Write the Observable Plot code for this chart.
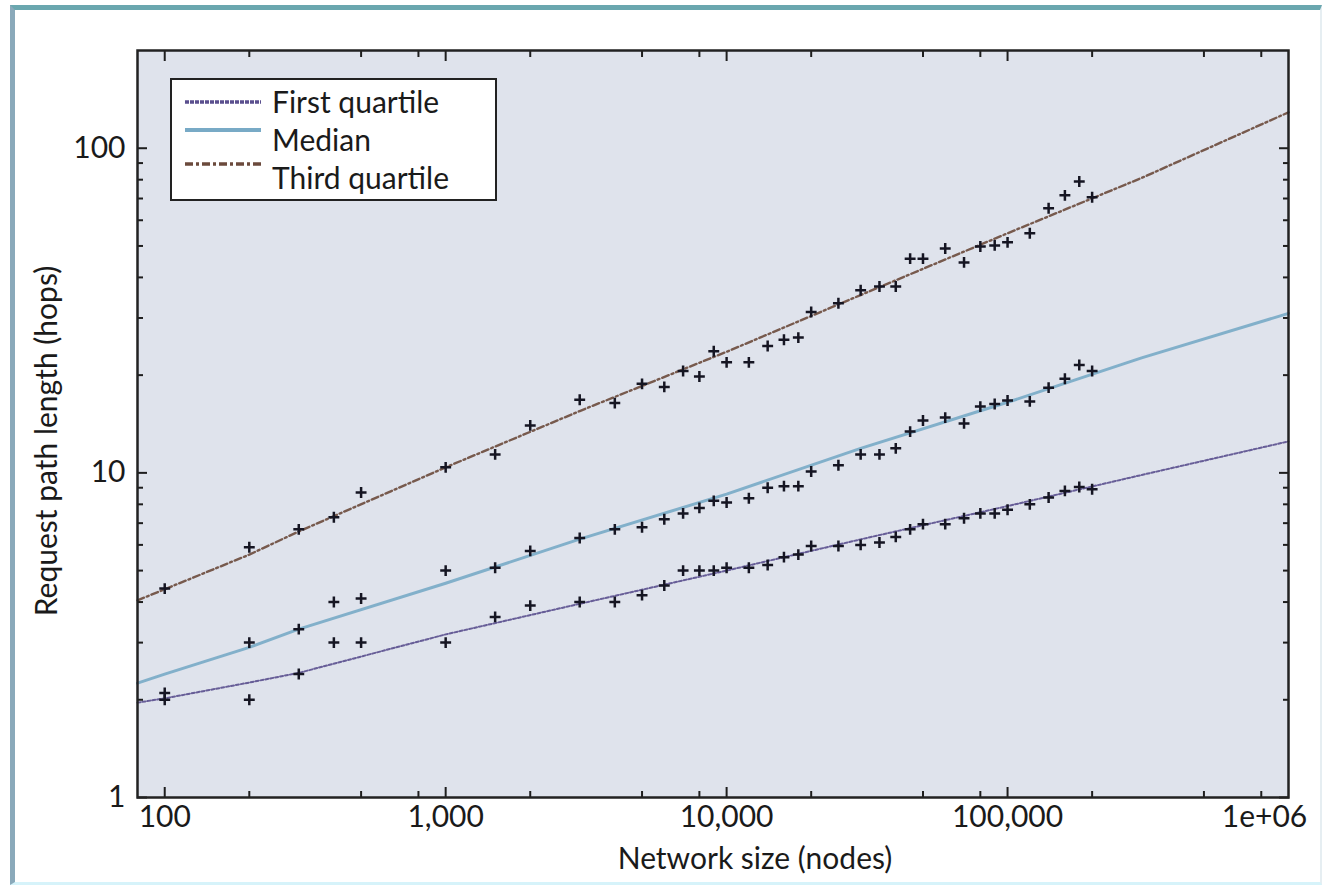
<!DOCTYPE html>
<html>
<head>
<meta charset="utf-8">
<script src="https://cdn.jsdelivr.net/npm/d3@7"></script>
<script src="https://cdn.jsdelivr.net/npm/@observablehq/plot@0.6"></script>
<style>
  html, body { margin: 0; padding: 0; background: #ffffff; }
  #page { position: relative; width: 1326px; height: 887px; overflow: hidden; background: #ffffff; }
  #border { position: absolute; left: 10px; top: 5px; width: 1312px; height: 880px; box-sizing: border-box;
            border-top: 5px solid #6aa7af; border-left: 5px solid #8aa9ba; border-right: 2px solid #e6eef2; border-bottom: 3px solid #d6f3fa; }
  #chart { position: absolute; left: 0; top: 0; }
  #legend { position: absolute; left: 170px; top: 78px; width: 327px; height: 123px; box-sizing: border-box;
            border: 2.5px solid #222; background: #ffffff; font-family: Lato, sans-serif; font-size: 30px; color: #1a1a1a; }
  #legend svg { position: absolute; left: 13px; }
  #legend span { position: absolute; left: 100px; white-space: nowrap; line-height: 1; }
</style>
</head>
<body>
<div id="page">
  <div id="border"></div>
  <div id="chart"></div>
  <div id="legend"></div>
</div>
<script>
// ---- data ----
const sizes = [100, 200, 300, 400, 500, 1000, 1500, 2000, 3000, 4000, 5000, 6000, 7000, 8000, 9000,
  10000, 12000, 14000, 16000, 18000, 20000, 25000, 30000, 35000, 40000, 45000, 50000, 60000, 70000,
  80000, 90000, 100000, 120000, 140000, 160000, 180000, 200000];
const firstQuartile = [2.0, 2.0, 2.4, 3.0, 3.0, 3.0, 3.6, 3.9, 4.0, 4.0, 4.2, 4.5, 5.0, 5.0, 5.0,
  5.1, 5.1, 5.2, 5.5, 5.6, 5.95, 5.95, 6.0, 6.1, 6.35, 6.7, 6.95, 6.95, 7.25,
  7.5, 7.5, 7.7, 8.0, 8.4, 8.8, 9.05, 8.9];
const median = [2.1, 3.0, 3.3, 4.0, 4.1, 5.0, 5.1, 5.75, 6.3, 6.7, 6.8, 7.2, 7.5, 7.8, 8.2,
  8.1, 8.35, 9.0, 9.1, 9.1, 10.1, 10.55, 11.4, 11.4, 11.9, 13.4, 14.5, 14.8, 14.2,
  16.0, 16.3, 16.7, 16.6, 18.3, 19.5, 21.5, 20.6];
const thirdQuartile = [4.4, 5.9, 6.7, 7.3, 8.7, 10.4, 11.4, 14.0, 16.8, 16.4, 18.8, 18.4, 20.6, 19.8, 23.7,
  21.9, 21.9, 24.6, 25.7, 26.1, 31.3, 33.3, 36.5, 37.5, 37.5, 45.7, 45.7, 49.1, 44.5,
  49.8, 50.2, 51.3, 54.7, 65.3, 71.6, 79.0, 70.6];

// fitted curves
const fitSizes = [80, 100, 200, 300, 1000, 3000, 10000, 30000, 100000, 300000, 1000000];
const firstQuartileFit = [1.96, 2.02, 2.26, 2.42, 3.18, 3.95, 5.0, 6.24, 7.9, 9.85, 12.5];
const medianFit = [2.25, 2.4, 2.9, 3.3, 4.57, 6.25, 8.6, 11.9, 16.5, 22.6, 31.0];
const thirdQuartileFit = [4.05, 4.38, 5.6, 6.6, 10.4, 15.5, 23.6, 35.3, 54.7, 81.0, 129.0];

// series names, ticks, labels
const seriesNames = ["First quartile", "Median", "Third quartile"];
const xMajorTicks = [100, 1000, 10000, 100000];
const xMinorTicks = [200, 500, 800, 2000, 5000, 8000, 20000, 50000, 80000, 200000, 500000, 800000];
const xEdgeTicks = [1000000];
const xEdgeLabels = ["1e+06"];
const yMajorTicks = [1, 10, 100];
const yMinorTicks = [2, 3, 4, 5, 6, 7, 8, 9, 20, 30, 40, 50, 60, 70, 80, 90];
const xTitle = "Network size (nodes)";
const yTitle = "Request path length (hops)";

// ---- styles ----
const styles = {
  "First quartile": {stroke: "#5a4f8e", strokeWidth: 2, strokeDasharray: "3,2"},
  "Median": {stroke: "#78aac6", strokeWidth: 3, strokeDasharray: null},
  "Third quartile": {stroke: "#6b4a3c", strokeWidth: 2.4, strokeDasharray: "7,3,2,3"}
};

const pointValues = [firstQuartile, median, thirdQuartile];
const fitValues = [firstQuartileFit, medianFit, thirdQuartileFit];

const points = [];
seriesNames.forEach((name, s) => sizes.forEach((n, i) => points.push({series: name, size: n, hops: pointValues[s][i]})));

const fitMarks = seriesNames.map((name, s) => {
  const rows = fitSizes.map((n, i) => ({size: n, hops: fitValues[s][i]}));
  const st = styles[name];
  return Plot.line(rows, {x: "size", y: "hops", stroke: st.stroke, strokeWidth: st.strokeWidth,
    strokeDasharray: st.strokeDasharray, strokeOpacity: 0.9});
});

const edgeRows = xEdgeTicks.map((t, i) => ({size: t, label: xEdgeLabels[i]}));

const tickColor = "#1e1e1e";
const fmt = d3.format(",");

const chart = Plot.plot({
  width: 1326,
  height: 887,
  marginLeft: 137,
  marginRight: 38,
  marginTop: 50,
  marginBottom: 90,
  style: {fontFamily: "Lato, sans-serif", fontSize: "30px", color: "#1a1a1a", background: "transparent"},
  x: {type: "log", domain: [80, 1000000], axis: null},
  y: {type: "log", domain: [1, 200], axis: null},
  marks: [
    Plot.frame({fill: "#dfe3ec", stroke: null}),
    ...fitMarks,
    Plot.dot(points, {x: "size", y: "hops", symbol: "plus", r: 3.6, stroke: "#151522", strokeWidth: 2.5}),
    // inward ticks, all four sides
    Plot.axisX(xMajorTicks, {anchor: "bottom", tickSize: -10, text: null, stroke: tickColor, strokeWidth: 2, label: null}),
    Plot.axisX(xMinorTicks, {anchor: "bottom", tickSize: -6, text: null, stroke: tickColor, strokeWidth: 2, label: null}),
    Plot.axisX(xMajorTicks, {anchor: "top", tickSize: -10, text: null, stroke: tickColor, strokeWidth: 2, label: null}),
    Plot.axisX(xMinorTicks, {anchor: "top", tickSize: -6, text: null, stroke: tickColor, strokeWidth: 2, label: null}),
    Plot.axisY(yMajorTicks, {anchor: "left", tickSize: -10, text: null, stroke: tickColor, strokeWidth: 2, label: null}),
    Plot.axisY(yMinorTicks, {anchor: "left", tickSize: -6, text: null, stroke: tickColor, strokeWidth: 2, label: null}),
    Plot.axisY(yMajorTicks, {anchor: "right", tickSize: -10, text: null, stroke: tickColor, strokeWidth: 2, label: null}),
    Plot.axisY(yMinorTicks, {anchor: "right", tickSize: -6, text: null, stroke: tickColor, strokeWidth: 2, label: null}),
    // tick labels
    Plot.axisX(xMajorTicks, {anchor: "bottom", tickSize: 0, tickPadding: 8, tickFormat: fmt, label: null, fill: "#1a1a1a"}),
    Plot.text(edgeRows, {x: "size", text: "label", frameAnchor: "bottom", lineAnchor: "top", dy: 8, dx: -24, fill: "#1a1a1a"}),
    Plot.axisY(yMajorTicks, {anchor: "left", tickSize: 0, tickPadding: 12, tickFormat: fmt, label: null, fill: "#1a1a1a"}),
    // titles
    Plot.text([xTitle], {text: d => d, frameAnchor: "bottom", lineAnchor: "middle", textAnchor: "middle", dx: 42, dy: 62, fill: "#1a1a1a"}),
    Plot.text([yTitle], {text: d => d, frameAnchor: "left", rotate: -90, textAnchor: "middle", lineAnchor: "middle", dx: -90, dy: 17, fill: "#1a1a1a"}),
    Plot.frame({stroke: "#222", strokeWidth: 2.5})
  ]
});
document.getElementById("chart").appendChild(chart);

// legend (overlaid on the plot, as in the reference)
const legend = document.getElementById("legend");
const swatchY = [22, 50, 84];
const textTop = [6, 44, 82];
seriesNames.forEach((name, i) => {
  const st = styles[name];
  const svg = d3.create("svg").attr("width", 78).attr("height", 10)
    .style("top", (swatchY[i] - 5) + "px");
  svg.append("line").attr("x1", 0).attr("x2", 76).attr("y1", 5).attr("y2", 5)
    .attr("stroke", st.stroke).attr("stroke-width", name === "Median" ? 4 : 3.5)
    .attr("stroke-dasharray", name === "First quartile" ? "4,1" : (st.strokeDasharray ? "8,3,3,3" : null));
  legend.appendChild(svg.node());
  const span = document.createElement("span");
  span.textContent = name;
  span.style.top = textTop[i] + "px";
  legend.appendChild(span);
});
</script>
</body>
</html>
